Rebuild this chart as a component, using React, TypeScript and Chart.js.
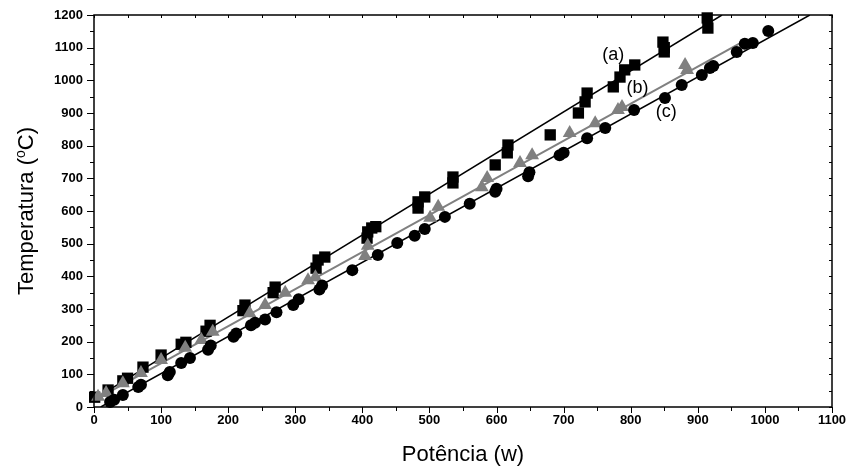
import React, { useEffect, useRef } from "react";
import { Chart, registerables } from "chart.js";

Chart.register(...registerables);

// Series (a): squares
const seriesA: [number, number][] = [
  [1, 30], [21, 52], [43, 80], [50, 88], [73, 122], [100, 159], [130, 192], [137, 198],
  [167, 232], [173, 250], [222, 295], [225, 312], [267, 350], [270, 367], [331, 425],
  [334, 450], [344, 459], [407, 517], [408, 536], [414, 548], [420, 552], [483, 609],
  [483, 628], [493, 643], [535, 686], [535, 704], [598, 741], [616, 778], [617, 802],
  [680, 833], [722, 900], [732, 934], [735, 961], [774, 980], [784, 1010], [791, 1032],
  [806, 1047], [848, 1117], [850, 1087], [850, 1100], [914, 1191], [915, 1160],
];

// Series (b): triangles
const seriesB: [number, number][] = [
  [6, 31], [18, 43], [43, 73], [70, 104], [100, 144], [136, 181], [160, 205], [177, 230],
  [232, 287], [255, 312], [285, 350], [319, 388], [330, 397], [404, 462], [408, 494],
  [501, 579], [513, 613], [578, 673], [586, 701], [635, 747], [653, 771], [709, 839],
  [747, 869], [781, 909], [787, 918], [881, 1047], [884, 1032],
];

// Series (c): circles
const seriesC: [number, number][] = [
  [24, 15], [30, 22], [43, 37], [66, 61], [70, 68], [110, 97], [113, 107], [130, 135],
  [143, 150], [170, 175], [174, 188], [208, 215], [212, 225], [234, 250], [240, 258],
  [255, 268], [272, 290], [297, 312], [305, 330], [336, 360], [340, 372], [385, 419],
  [423, 465], [452, 502], [478, 524], [493, 545], [523, 582], [560, 622], [598, 659],
  [600, 668], [647, 706], [649, 719], [694, 771], [700, 778], [735, 823], [762, 854],
  [805, 909], [851, 946], [876, 986], [906, 1016], [918, 1038], [923, 1044], [958, 1087],
  [970, 1112], [982, 1114], [1005, 1151],
];

// Fitted lines (end points)
const fitA: [number, number][] = [[0, 24], [936, 1200]];
const fitB: [number, number][] = [[0, 20], [966, 1117]];
const fitC: [number, number][] = [[10, 0], [1067, 1200]];

// Curve labels
const curveLabels = ["(a)", "(b)", "(c)"];
const curveLabelX = [774, 810, 853];
const curveLabelY = [1078, 976, 903];

const xMin = 0, xMax = 1100, xStep = 100;
const yMin = 0, yMax = 1200, yStep = 100;
const xTitle = "Potência (w)";
const yTitleMain = "Temperatura (";
const yTitleSup = "o";
const yTitleEnd = "C)";

const FONT = "'Liberation Sans', Arial, Helvetica, sans-serif";

const toPts = (arr: [number, number][]) => arr.map(([x, y]) => ({ x, y }));

const framePlugin = {
  id: "frameTicks",
  afterDraw(chart: any) {
    const { ctx, chartArea: a, scales } = chart;
    const x = scales.x, y = scales.y;
    ctx.save();
    ctx.strokeStyle = "#000";
    ctx.lineWidth = 1;
    for (let v = xMin; v <= xMax; v += xStep / 2) {
      const px = Math.round(x.getPixelForValue(v)) + 0.5;
      const major = v % xStep === 0;
      ctx.beginPath();
      ctx.moveTo(px, a.bottom);
      ctx.lineTo(px, a.bottom + (major ? 6 : 4));
      ctx.moveTo(px, a.top);
      ctx.lineTo(px, a.top + 3);
      ctx.stroke();
    }
    for (let v = yMin; v <= yMax; v += yStep / 2) {
      const py = Math.round(y.getPixelForValue(v)) + 0.5;
      const major = v % yStep === 0;
      ctx.beginPath();
      ctx.moveTo(a.left, py);
      ctx.lineTo(a.left - (major ? 7 : 4), py);
      ctx.moveTo(a.right, py);
      ctx.lineTo(a.right - 3, py);
      ctx.stroke();
    }
    ctx.lineWidth = 1.5;
    ctx.strokeRect(a.left, a.top, a.right - a.left, a.bottom - a.top);

    ctx.fillStyle = "#000";
    ctx.font = `22px ${FONT}`;
    ctx.textAlign = "center";
    ctx.textBaseline = "alphabetic";
    ctx.fillText(xTitle, (a.left + a.right) / 2, 461);

    ctx.save();
    ctx.translate(33, (a.top + a.bottom) / 2);
    ctx.rotate(-Math.PI / 2);
    ctx.font = `22px ${FONT}`;
    const w1 = ctx.measureText(yTitleMain).width;
    ctx.font = `14px ${FONT}`;
    const w2 = ctx.measureText(yTitleSup).width;
    ctx.font = `22px ${FONT}`;
    const w3 = ctx.measureText(yTitleEnd).width;
    const total = w1 + w2 + w3;
    let cx = -total / 2;
    ctx.textAlign = "left";
    ctx.fillText(yTitleMain, cx, 0);
    cx += w1;
    ctx.font = `14px ${FONT}`;
    ctx.fillText(yTitleSup, cx, -8);
    cx += w2;
    ctx.font = `22px ${FONT}`;
    ctx.fillText(yTitleEnd, cx, 0);
    ctx.restore();

    ctx.font = `18px ${FONT}`;
    ctx.textAlign = "center";
    ctx.textBaseline = "middle";
    curveLabels.forEach((t, i) => {
      ctx.fillText(t, x.getPixelForValue(curveLabelX[i]), y.getPixelForValue(curveLabelY[i]));
    });
    ctx.restore();
  },
};

export default function App() {
  const ref = useRef<HTMLCanvasElement | null>(null);
  useEffect(() => {
    document.body.style.margin = "0";
    const canvas = ref.current;
    if (!canvas) return;
    const chart = new Chart(canvas, {
      type: "scatter",
      data: {
        datasets: [
          {
            type: "line",
            data: toPts(fitA),
            borderColor: "#000",
            borderWidth: 1.5,
            pointRadius: 0,
            showLine: true,
            order: 10,
          } as any,
          {
            type: "line",
            data: toPts(fitB),
            borderColor: "#808080",
            borderWidth: 2,
            pointRadius: 0,
            showLine: true,
            order: 10,
          } as any,
          {
            type: "line",
            data: toPts(fitC),
            borderColor: "#000",
            borderWidth: 1.5,
            pointRadius: 0,
            showLine: true,
            order: 10,
          } as any,
          {
            data: toPts(seriesA),
            pointStyle: "rect",
            pointRadius: 8,
            backgroundColor: "#000",
            borderColor: "#000",
            borderWidth: 0,
            clip: false,
            order: 3,
          },
          {
            data: toPts(seriesB),
            pointStyle: "triangle",
            pointRadius: 8,
            backgroundColor: "#808080",
            borderColor: "#808080",
            borderWidth: 0,
            clip: false,
            order: 2,
          },
          {
            data: toPts(seriesC),
            pointStyle: "circle",
            pointRadius: 6,
            backgroundColor: "#000",
            borderColor: "#000",
            borderWidth: 0,
            clip: false,
            order: 1,
          },
        ],
      },
      options: {
        animation: false,
        responsive: true,
        maintainAspectRatio: false,
        layout: { padding: { top: 15, right: 16, left: 0, bottom: 0 } },
        plugins: { legend: { display: false }, tooltip: { enabled: false } },
        scales: {
          x: {
            type: "linear",
            min: xMin,
            max: xMax,
            grid: { display: false, drawTicks: false },
            border: { display: false },
            ticks: {
              stepSize: xStep,
              padding: 6,
              color: "#000",
              font: { family: FONT, size: 13, weight: "bold" },
              maxRotation: 0,
              callback: (v: any) => String(v),
            },
            afterFit(scale: any) {
              scale.height = 63;
              scale.paddingLeft = 0;
              scale.paddingRight = 0;
            },
          },
          y: {
            type: "linear",
            min: yMin,
            max: yMax,
            grid: { display: false, drawTicks: false },
            border: { display: false },
            ticks: {
              stepSize: yStep,
              padding: 11,
              color: "#000",
              font: { family: FONT, size: 13, weight: "bold" },
              callback: (v: any) => String(v),
            },
            afterFit(scale: any) {
              scale.width = 94;
              scale.paddingTop = 0;
              scale.paddingBottom = 0;
            },
          },
        },
      },
      plugins: [framePlugin],
    });
    return () => chart.destroy();
  }, []);
  return (
    <div style={{ position: "fixed", left: 0, top: 0, width: 848, height: 470, background: "#fff" }}>
      <canvas ref={ref} />
    </div>
  );
}
